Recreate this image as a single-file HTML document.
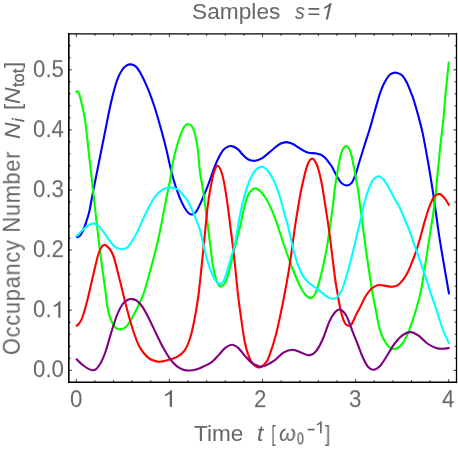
<!DOCTYPE html>
<html><head><meta charset="utf-8"><title>plot</title>
<style>
html,body{margin:0;padding:0;background:#fff;}
body{width:458px;height:449px;position:relative;overflow:hidden;font-family:"Liberation Sans",sans-serif;color:#666;}
.p{will-change:transform;position:absolute;line-height:20px;white-space:pre;display:block;}
.v{transform-origin:0 0;transform:rotate(-90deg);}
</style></head><body>
<svg width="458" height="449" viewBox="0 0 458 449" style="position:absolute;left:0;top:0">
<path d="M76.00 237.30 C76.57 237.13 78.28 237.28 79.40 236.30 C80.52 235.32 81.60 233.67 82.70 231.40 C83.80 229.13 84.92 225.93 86.00 222.70 C87.08 219.47 88.28 215.78 89.20 212.00 C90.12 208.22 90.80 203.67 91.50 200.00 C92.20 196.33 92.42 195.00 93.40 190.00 C94.38 185.00 96.23 175.83 97.40 170.00 C98.57 164.17 99.40 160.00 100.40 155.00 C101.40 150.00 102.57 144.17 103.40 140.00 C104.23 135.83 104.40 135.00 105.40 130.00 C106.40 125.00 108.07 116.20 109.40 110.00 C110.73 103.80 112.07 97.90 113.40 92.80 C114.73 87.70 115.95 83.20 117.40 79.40 C118.85 75.60 120.55 72.33 122.10 70.00 C123.65 67.67 125.20 66.33 126.70 65.40 C128.20 64.47 129.53 64.18 131.10 64.40 C132.67 64.62 134.38 64.98 136.10 66.70 C137.82 68.42 139.62 71.47 141.40 74.70 C143.18 77.93 145.12 82.20 146.80 86.10 C148.48 90.00 150.05 94.12 151.50 98.10 C152.95 102.08 153.87 104.68 155.50 110.00 C157.13 115.32 159.55 123.67 161.30 130.00 C163.05 136.33 164.10 140.20 166.00 148.00 C167.90 155.80 170.47 168.65 172.70 176.80 C174.93 184.95 177.18 191.37 179.40 196.90 C181.62 202.43 183.97 207.07 186.00 210.00 C188.03 212.93 189.73 214.50 191.60 214.50 C193.47 214.50 194.78 214.05 197.20 210.00 C199.62 205.95 203.13 197.53 206.10 190.20 C209.07 182.87 212.85 171.52 215.00 166.00 C217.15 160.48 217.67 159.70 219.00 157.10 C220.33 154.50 221.67 152.07 223.00 150.40 C224.33 148.73 225.55 147.82 227.00 147.10 C228.45 146.38 229.92 145.77 231.70 146.10 C233.48 146.43 235.80 147.60 237.70 149.10 C239.60 150.60 241.32 153.37 243.10 155.10 C244.88 156.83 246.40 158.55 248.40 159.50 C250.40 160.45 252.87 160.98 255.10 160.80 C257.33 160.62 259.57 159.68 261.80 158.40 C264.03 157.12 266.30 154.92 268.50 153.10 C270.70 151.28 273.03 149.07 275.00 147.50 C276.97 145.93 278.40 144.60 280.30 143.70 C282.20 142.80 284.38 142.10 286.40 142.10 C288.42 142.10 290.52 142.88 292.40 143.70 C294.28 144.52 295.92 145.88 297.70 147.00 C299.48 148.12 301.32 149.45 303.10 150.40 C304.88 151.35 306.40 152.20 308.40 152.70 C310.40 153.20 313.10 153.10 315.10 153.40 C317.10 153.70 318.73 153.78 320.40 154.50 C322.07 155.22 323.53 156.15 325.10 157.70 C326.67 159.25 328.70 162.37 329.80 163.80 C330.90 165.23 330.83 164.80 331.70 166.30 C332.57 167.80 333.88 170.72 335.00 172.80 C336.12 174.88 337.28 177.05 338.40 178.80 C339.52 180.55 340.37 182.18 341.70 183.30 C343.03 184.42 344.73 185.58 346.40 185.50 C348.07 185.42 350.15 184.70 351.70 182.80 C353.25 180.90 354.37 177.78 355.70 174.10 C357.03 170.42 358.13 165.82 359.70 160.70 C361.27 155.58 363.48 148.52 365.10 143.40 C366.72 138.28 368.20 133.90 369.40 130.00 C370.60 126.10 371.13 124.10 372.30 120.00 C373.47 115.90 375.05 110.05 376.40 105.40 C377.75 100.75 379.07 95.88 380.40 92.10 C381.73 88.32 382.95 85.48 384.40 82.70 C385.85 79.92 387.67 77.00 389.10 75.40 C390.53 73.80 391.78 73.55 393.00 73.10 C394.22 72.65 394.90 72.33 396.40 72.70 C397.90 73.07 400.25 73.63 402.00 75.30 C403.75 76.97 405.27 79.47 406.90 82.70 C408.53 85.93 410.65 91.78 411.80 94.70 C412.95 97.62 412.77 96.87 413.80 100.20 C414.83 103.53 416.52 109.17 418.00 114.70 C419.48 120.23 421.08 125.85 422.70 133.40 C424.32 140.95 426.55 153.70 427.70 160.00 C428.85 166.30 428.60 165.03 429.60 171.20 C430.60 177.37 432.08 186.08 433.70 197.00 C435.32 207.92 437.43 224.52 439.30 236.70 C441.17 248.88 443.27 260.52 444.90 270.10 C446.53 279.68 448.40 290.18 449.10 294.20" fill="none" stroke="#0000ff" stroke-width="2.1" stroke-linejoin="round" stroke-linecap="butt"/>
<path d="M75.70 92.30 C75.93 92.15 76.48 91.02 77.10 91.40 C77.72 91.78 78.47 91.83 79.40 94.60 C80.33 97.37 81.78 103.93 82.70 108.00 C83.62 112.07 84.30 115.33 84.90 119.00 C85.50 122.67 85.88 126.50 86.30 130.00 C86.72 133.50 86.37 130.72 87.40 140.00 C88.43 149.28 91.38 175.70 92.50 185.70 C93.62 195.70 93.30 192.95 94.10 200.00 C94.90 207.05 96.05 217.43 97.30 228.00 C98.55 238.57 100.27 253.07 101.60 263.40 C102.93 273.73 104.35 282.90 105.30 290.00 C106.25 297.10 106.40 301.10 107.30 306.00 C108.20 310.90 109.35 315.83 110.70 319.40 C112.05 322.97 113.73 325.73 115.40 327.40 C117.07 329.07 118.82 329.62 120.70 329.40 C122.58 329.18 124.58 328.43 126.70 326.10 C128.82 323.77 131.17 319.42 133.40 315.40 C135.63 311.38 138.20 306.23 140.10 302.00 C142.00 297.77 142.30 298.28 144.80 290.00 C147.30 281.72 152.53 262.30 155.10 252.30 C157.67 242.30 158.38 238.72 160.20 230.00 C162.02 221.28 164.35 208.33 166.00 200.00 C167.65 191.67 169.02 185.98 170.10 180.00 C171.18 174.02 171.40 169.65 172.50 164.10 C173.60 158.55 174.98 152.48 176.70 146.70 C178.42 140.92 180.90 133.18 182.80 129.40 C184.70 125.62 186.32 124.00 188.10 124.00 C189.88 124.00 191.92 125.40 193.50 129.40 C195.08 133.40 196.52 140.88 197.60 148.00 C198.68 155.12 199.15 165.43 200.00 172.10 C200.85 178.77 201.78 182.02 202.70 188.00 C203.62 193.98 204.57 201.17 205.50 208.00 C206.43 214.83 207.08 219.57 208.30 229.00 C209.52 238.43 211.32 255.70 212.80 264.60 C214.28 273.50 215.72 278.77 217.20 282.40 C218.68 286.03 220.03 287.13 221.70 286.40 C223.37 285.67 225.17 283.87 227.20 278.00 C229.23 272.13 231.67 260.12 233.90 251.20 C236.13 242.28 238.92 231.70 240.60 224.50 C242.28 217.30 242.70 212.98 244.00 208.00 C245.30 203.02 246.43 197.87 248.40 194.60 C250.37 191.33 252.87 187.75 255.80 188.40 C258.73 189.05 262.82 193.60 266.00 198.50 C269.18 203.40 271.93 210.13 274.90 217.80 C277.87 225.47 280.83 235.97 283.80 244.50 C286.77 253.03 290.00 262.07 292.70 269.00 C295.40 275.93 297.88 281.80 300.00 286.10 C302.12 290.40 303.62 292.80 305.40 294.80 C307.18 296.80 309.15 298.10 310.70 298.10 C312.25 298.10 313.35 297.25 314.70 294.80 C316.05 292.35 317.45 287.97 318.80 283.40 C320.15 278.83 321.53 272.97 322.80 267.40 C324.07 261.83 325.48 254.90 326.40 250.00 C327.32 245.10 327.28 244.83 328.30 238.00 C329.32 231.17 331.45 217.00 332.50 209.00 C333.55 201.00 333.95 195.15 334.60 190.00 C335.25 184.85 335.77 182.08 336.40 178.10 C337.03 174.12 337.63 170.10 338.40 166.10 C339.17 162.10 340.20 157.03 341.00 154.10 C341.80 151.17 342.35 149.85 343.20 148.50 C344.05 147.15 345.13 146.00 346.10 146.00 C347.07 146.00 348.10 146.93 349.00 148.50 C349.90 150.07 350.72 152.47 351.50 155.40 C352.28 158.33 352.88 161.87 353.70 166.10 C354.52 170.33 355.67 176.82 356.40 180.80 C357.13 184.78 357.60 186.80 358.10 190.00 C358.60 193.20 358.60 193.88 359.40 200.00 C360.20 206.12 361.73 217.87 362.90 226.70 C364.07 235.53 364.88 242.42 366.40 253.00 C367.92 263.58 370.40 280.53 372.00 290.20 C373.60 299.87 374.62 304.17 376.00 311.00 C377.38 317.83 378.47 325.60 380.30 331.20 C382.13 336.80 384.67 341.63 387.00 344.60 C389.33 347.57 391.72 349.18 394.30 349.00 C396.88 348.82 400.02 346.65 402.50 343.50 C404.98 340.35 406.97 335.68 409.20 330.10 C411.43 324.52 413.85 317.02 415.90 310.00 C417.95 302.98 419.45 298.73 421.50 288.00 C423.55 277.27 426.28 257.77 428.20 245.60 C430.12 233.43 431.75 223.68 433.00 215.00 C434.25 206.32 434.53 204.50 435.70 193.50 C436.87 182.50 438.73 161.25 440.00 149.00 C441.27 136.75 442.35 129.43 443.30 120.00 C444.25 110.57 444.78 102.13 445.70 92.40 C446.62 82.67 448.28 66.73 448.80 61.60" fill="none" stroke="#00ff00" stroke-width="2.1" stroke-linejoin="round" stroke-linecap="butt"/>
<path d="M76.00 326.30 C76.57 325.78 78.28 324.83 79.40 323.20 C80.52 321.57 81.37 320.37 82.70 316.50 C84.03 312.63 85.45 307.75 87.40 300.00 C89.35 292.25 92.68 277.25 94.40 270.00 C96.12 262.75 96.60 260.17 97.70 256.50 C98.80 252.83 99.75 249.92 101.00 248.00 C102.25 246.08 103.23 243.92 105.20 245.00 C107.17 246.08 110.42 248.83 112.80 254.50 C115.18 260.17 117.28 270.47 119.50 279.00 C121.72 287.53 123.88 297.28 126.10 305.70 C128.32 314.12 130.57 322.65 132.80 329.50 C135.03 336.35 136.90 342.07 139.50 346.80 C142.10 351.53 145.25 355.42 148.40 357.90 C151.55 360.38 155.47 361.27 158.40 361.70 C161.33 362.13 162.88 361.32 166.00 360.50 C169.12 359.68 173.95 358.53 177.10 356.80 C180.25 355.07 182.67 353.43 184.90 350.10 C187.13 346.77 188.82 342.37 190.50 336.80 C192.18 331.23 193.67 323.67 195.00 316.70 C196.33 309.73 197.22 305.17 198.50 295.00 C199.78 284.83 201.20 270.20 202.70 255.70 C204.20 241.20 206.20 219.28 207.50 208.00 C208.80 196.72 209.43 193.93 210.50 188.00 C211.57 182.07 212.70 176.12 213.90 172.40 C215.10 168.68 216.33 165.43 217.70 165.70 C219.07 165.97 220.82 169.93 222.10 174.00 C223.38 178.07 224.37 184.10 225.40 190.10 C226.43 196.10 227.40 203.35 228.30 210.00 C229.20 216.65 229.83 222.22 230.80 230.00 C231.77 237.78 232.95 246.37 234.10 256.70 C235.25 267.03 236.62 282.37 237.70 292.00 C238.78 301.63 239.37 305.92 240.60 314.50 C241.83 323.08 243.43 335.88 245.10 343.50 C246.77 351.12 248.38 356.20 250.60 360.20 C252.82 364.20 255.83 367.13 258.40 367.50 C260.97 367.87 263.98 364.92 266.00 362.40 C268.02 359.88 268.83 357.05 270.50 352.40 C272.17 347.75 274.33 340.82 276.00 334.50 C277.67 328.18 279.10 321.08 280.50 314.50 C281.90 307.92 282.92 302.95 284.40 295.00 C285.88 287.05 287.63 278.18 289.40 266.80 C291.17 255.42 293.48 237.00 295.00 226.70 C296.52 216.40 297.40 211.45 298.50 205.00 C299.60 198.55 300.15 194.55 301.60 188.00 C303.05 181.45 305.45 170.60 307.20 165.70 C308.95 160.80 310.43 158.60 312.10 158.60 C313.77 158.60 315.60 161.55 317.20 165.70 C318.80 169.85 320.37 176.95 321.70 183.50 C323.03 190.05 323.90 196.68 325.20 205.00 C326.50 213.32 327.87 221.23 329.50 233.40 C331.13 245.57 333.58 267.57 335.00 278.00 C336.42 288.43 337.22 291.33 338.00 296.00 C338.78 300.67 338.97 302.55 339.70 306.00 C340.43 309.45 341.50 313.80 342.40 316.70 C343.30 319.60 344.10 321.88 345.10 323.40 C346.10 324.92 347.30 325.68 348.40 325.80 C349.50 325.92 350.37 326.05 351.70 324.10 C353.03 322.15 355.02 316.87 356.40 314.10 C357.78 311.33 358.52 310.38 360.00 307.50 C361.48 304.62 363.52 299.82 365.30 296.80 C367.08 293.78 369.02 291.18 370.70 289.40 C372.38 287.62 373.85 286.83 375.40 286.10 C376.95 285.37 378.12 285.00 380.00 285.00 C381.88 285.00 384.68 285.82 386.70 286.10 C388.72 286.38 390.32 286.82 392.10 286.70 C393.88 286.58 395.62 286.50 397.40 285.40 C399.18 284.30 401.02 282.43 402.80 280.10 C404.58 277.77 406.55 274.42 408.10 271.40 C409.65 268.38 410.77 265.35 412.10 262.00 C413.43 258.65 414.85 254.97 416.10 251.30 C417.35 247.63 418.15 245.03 419.60 240.00 C421.05 234.97 423.18 226.60 424.80 221.10 C426.42 215.60 427.82 210.97 429.30 207.00 C430.78 203.03 431.97 199.45 433.70 197.30 C435.43 195.15 437.83 193.88 439.70 194.10 C441.57 194.32 443.30 196.68 444.90 198.60 C446.50 200.52 448.57 204.43 449.30 205.60" fill="none" stroke="#ff0000" stroke-width="2.1" stroke-linejoin="round" stroke-linecap="butt"/>
<path d="M76.00 236.70 C77.12 235.58 80.80 231.77 82.70 230.00 C84.60 228.23 85.62 227.20 87.40 226.10 C89.18 225.00 91.47 223.37 93.40 223.40 C95.33 223.43 97.40 225.00 99.00 226.30 C100.60 227.60 101.43 229.08 103.00 231.20 C104.57 233.32 106.62 236.58 108.40 239.00 C110.18 241.42 112.13 244.13 113.70 245.70 C115.27 247.27 116.45 247.82 117.80 248.40 C119.15 248.98 120.57 249.20 121.80 249.20 C123.03 249.20 124.10 248.87 125.20 248.40 C126.30 247.93 126.97 248.10 128.40 246.40 C129.83 244.70 132.17 240.93 133.80 238.20 C135.43 235.47 136.48 233.57 138.20 230.00 C139.92 226.43 142.12 221.02 144.10 216.80 C146.08 212.58 148.10 208.27 150.10 204.70 C152.10 201.13 153.98 197.95 156.10 195.40 C158.22 192.85 161.07 190.63 162.80 189.40 C164.53 188.17 165.23 188.33 166.50 188.00 C167.77 187.67 169.15 187.42 170.40 187.40 C171.65 187.38 172.82 187.57 174.00 187.90 C175.18 188.23 176.50 188.82 177.50 189.40 C178.50 189.98 178.47 189.73 180.00 191.40 C181.53 193.07 184.68 196.28 186.70 199.40 C188.72 202.52 190.53 206.77 192.10 210.10 C193.67 213.43 194.78 216.08 196.10 219.40 C197.42 222.72 198.78 225.78 200.00 230.00 C201.22 234.22 202.17 239.58 203.40 244.70 C204.63 249.82 205.85 255.58 207.40 260.70 C208.95 265.82 211.18 271.88 212.70 275.40 C214.22 278.92 215.27 280.35 216.50 281.80 C217.73 283.25 219.02 284.07 220.10 284.10 C221.18 284.13 222.12 283.22 223.00 282.00 C223.88 280.78 224.22 280.35 225.40 276.80 C226.58 273.25 228.65 265.60 230.10 260.70 C231.55 255.80 232.88 252.52 234.10 247.40 C235.32 242.28 236.58 234.57 237.40 230.00 C238.22 225.43 238.17 224.32 239.00 220.00 C239.83 215.68 241.17 209.20 242.40 204.10 C243.63 199.00 245.07 193.63 246.40 189.40 C247.73 185.17 248.85 181.93 250.40 178.70 C251.95 175.47 253.82 172.00 255.70 170.00 C257.58 168.00 259.68 166.58 261.70 166.70 C263.72 166.82 265.83 168.48 267.80 170.70 C269.77 172.92 271.60 176.00 273.50 180.00 C275.40 184.00 277.62 190.02 279.20 194.70 C280.78 199.38 281.97 204.30 283.00 208.10 C284.03 211.90 284.63 214.77 285.40 217.50 C286.17 220.23 286.30 219.25 287.60 224.50 C288.90 229.75 291.57 242.52 293.20 249.00 C294.83 255.48 295.82 259.00 297.40 263.40 C298.98 267.80 300.82 272.18 302.70 275.40 C304.58 278.62 306.47 280.58 308.70 282.70 C310.93 284.82 313.75 286.32 316.10 288.10 C318.45 289.88 320.80 291.85 322.80 293.40 C324.80 294.95 326.32 296.50 328.10 297.40 C329.88 298.30 331.93 298.90 333.50 298.80 C335.07 298.70 336.42 297.80 337.50 296.80 C338.58 295.80 339.22 294.02 340.00 292.80 C340.78 291.58 340.95 292.88 342.20 289.50 C343.45 286.12 345.63 279.08 347.50 272.50 C349.37 265.92 351.63 257.08 353.40 250.00 C355.17 242.92 356.82 235.43 358.10 230.00 C359.38 224.57 359.93 222.40 361.10 217.40 C362.27 212.40 363.77 204.90 365.10 200.00 C366.43 195.10 367.77 191.33 369.10 188.00 C370.43 184.67 371.50 181.95 373.10 180.00 C374.70 178.05 376.92 176.30 378.70 176.30 C380.48 176.30 381.95 177.82 383.80 180.00 C385.65 182.18 388.00 186.28 389.80 189.40 C391.60 192.52 392.97 195.72 394.60 198.70 C396.23 201.68 397.90 203.83 399.60 207.30 C401.30 210.77 403.13 215.52 404.80 219.50 C406.47 223.48 407.57 225.73 409.60 231.20 C411.63 236.67 414.47 245.07 417.00 252.30 C419.53 259.53 422.55 267.90 424.80 274.60 C427.05 281.30 428.55 286.60 430.50 292.50 C432.45 298.40 434.48 303.92 436.50 310.00 C438.52 316.08 440.47 323.37 442.60 329.00 C444.73 334.63 448.18 341.33 449.30 343.80" fill="none" stroke="#00ffff" stroke-width="2.1" stroke-linejoin="round" stroke-linecap="butt"/>
<path d="M76.00 358.70 C76.67 359.35 78.66 361.38 80.00 362.60 C81.34 363.82 82.63 364.95 84.05 366.00 C85.47 367.05 87.14 368.18 88.50 368.90 C89.86 369.62 90.98 370.22 92.20 370.30 C93.42 370.38 94.50 370.40 95.80 369.40 C97.10 368.40 98.80 366.17 100.00 364.30 C101.20 362.43 102.00 360.53 103.00 358.20 C104.00 355.87 104.50 354.98 106.00 350.30 C107.50 345.62 110.10 336.13 112.00 330.10 C113.90 324.07 115.62 318.45 117.40 314.10 C119.18 309.75 121.03 306.35 122.70 304.00 C124.37 301.65 125.88 300.82 127.40 300.00 C128.92 299.18 130.25 298.98 131.80 299.10 C133.35 299.22 134.87 299.32 136.70 300.70 C138.53 302.08 140.68 304.28 142.80 307.40 C144.92 310.52 147.08 314.85 149.40 319.40 C151.72 323.95 154.37 329.92 156.70 334.70 C159.03 339.48 161.18 344.08 163.40 348.10 C165.62 352.12 167.78 355.80 170.00 358.80 C172.22 361.80 174.47 364.28 176.70 366.10 C178.93 367.92 181.28 368.97 183.40 369.70 C185.52 370.43 187.17 370.58 189.40 370.50 C191.63 370.42 194.45 369.87 196.80 369.20 C199.15 368.53 201.02 367.68 203.50 366.50 C205.98 365.32 209.22 363.95 211.70 362.10 C214.18 360.25 216.18 357.73 218.40 355.40 C220.62 353.07 222.72 349.88 225.00 348.10 C227.28 346.32 229.87 344.70 232.10 344.70 C234.33 344.70 236.23 346.20 238.40 348.10 C240.57 350.00 242.87 353.65 245.10 356.10 C247.33 358.55 249.57 361.13 251.80 362.80 C254.03 364.47 256.95 365.48 258.50 366.10 C260.05 366.72 259.85 366.62 261.10 366.50 C262.35 366.38 263.70 366.45 266.00 365.40 C268.30 364.35 271.93 362.37 274.90 360.20 C277.87 358.03 280.83 354.15 283.80 352.40 C286.77 350.65 289.73 349.63 292.70 349.70 C295.67 349.77 298.82 351.87 301.60 352.80 C304.38 353.73 306.98 355.57 309.40 355.30 C311.82 355.03 313.87 353.92 316.10 351.20 C318.33 348.48 320.57 344.00 322.80 339.00 C325.03 334.00 327.47 325.65 329.50 321.20 C331.53 316.75 333.27 314.23 335.00 312.30 C336.73 310.37 338.03 309.05 339.90 309.60 C341.77 310.15 344.03 311.82 346.20 315.60 C348.37 319.38 350.93 327.40 352.90 332.30 C354.87 337.20 356.40 340.92 358.00 345.00 C359.60 349.08 360.83 353.17 362.50 356.80 C364.17 360.43 366.15 364.65 368.00 366.80 C369.85 368.95 371.55 369.88 373.60 369.70 C375.65 369.52 378.07 368.03 380.30 365.70 C382.53 363.37 384.60 359.40 387.00 355.70 C389.40 352.00 392.03 346.98 394.70 343.50 C397.37 340.02 400.35 336.70 403.00 334.80 C405.65 332.90 408.00 331.95 410.60 332.10 C413.20 332.25 415.82 333.80 418.60 335.70 C421.38 337.60 424.40 341.47 427.30 343.50 C430.20 345.53 433.45 347.03 436.00 347.90 C438.55 348.77 440.33 348.70 442.60 348.70 C444.87 348.70 448.43 348.03 449.60 347.90" fill="none" stroke="#800080" stroke-width="2.1" stroke-linejoin="round" stroke-linecap="butt"/>
<path d="M76.30 382.20 v-3.00 M76.30 33.90 v3.00 M94.92 382.20 v-2.00 M94.92 33.90 v2.00 M113.54 382.20 v-2.00 M113.54 33.90 v2.00 M132.16 382.20 v-2.00 M132.16 33.90 v2.00 M150.78 382.20 v-2.00 M150.78 33.90 v2.00 M169.40 382.20 v-3.00 M169.40 33.90 v3.00 M188.02 382.20 v-2.00 M188.02 33.90 v2.00 M206.64 382.20 v-2.00 M206.64 33.90 v2.00 M225.26 382.20 v-2.00 M225.26 33.90 v2.00 M243.88 382.20 v-2.00 M243.88 33.90 v2.00 M262.50 382.20 v-3.00 M262.50 33.90 v3.00 M281.12 382.20 v-2.00 M281.12 33.90 v2.00 M299.74 382.20 v-2.00 M299.74 33.90 v2.00 M318.36 382.20 v-2.00 M318.36 33.90 v2.00 M336.98 382.20 v-2.00 M336.98 33.90 v2.00 M355.60 382.20 v-3.00 M355.60 33.90 v3.00 M374.22 382.20 v-2.00 M374.22 33.90 v2.00 M392.84 382.20 v-2.00 M392.84 33.90 v2.00 M411.46 382.20 v-2.00 M411.46 33.90 v2.00 M430.08 382.20 v-2.00 M430.08 33.90 v2.00 M448.70 382.20 v-3.00 M448.70 33.90 v3.00 M68.80 370.30 h3.00 M456.50 370.30 h-3.00 M68.80 358.28 h2.00 M456.50 358.28 h-2.00 M68.80 346.26 h2.00 M456.50 346.26 h-2.00 M68.80 334.24 h2.00 M456.50 334.24 h-2.00 M68.80 322.22 h2.00 M456.50 322.22 h-2.00 M68.80 310.20 h3.00 M456.50 310.20 h-3.00 M68.80 298.18 h2.00 M456.50 298.18 h-2.00 M68.80 286.16 h2.00 M456.50 286.16 h-2.00 M68.80 274.14 h2.00 M456.50 274.14 h-2.00 M68.80 262.12 h2.00 M456.50 262.12 h-2.00 M68.80 250.10 h3.00 M456.50 250.10 h-3.00 M68.80 238.08 h2.00 M456.50 238.08 h-2.00 M68.80 226.06 h2.00 M456.50 226.06 h-2.00 M68.80 214.04 h2.00 M456.50 214.04 h-2.00 M68.80 202.02 h2.00 M456.50 202.02 h-2.00 M68.80 190.00 h3.00 M456.50 190.00 h-3.00 M68.80 177.98 h2.00 M456.50 177.98 h-2.00 M68.80 165.96 h2.00 M456.50 165.96 h-2.00 M68.80 153.94 h2.00 M456.50 153.94 h-2.00 M68.80 141.92 h2.00 M456.50 141.92 h-2.00 M68.80 129.90 h3.00 M456.50 129.90 h-3.00 M68.80 117.88 h2.00 M456.50 117.88 h-2.00 M68.80 105.86 h2.00 M456.50 105.86 h-2.00 M68.80 93.84 h2.00 M456.50 93.84 h-2.00 M68.80 81.82 h2.00 M456.50 81.82 h-2.00 M68.80 69.80 h3.00 M456.50 69.80 h-3.00 M68.80 57.78 h2.00 M456.50 57.78 h-2.00 M68.80 45.76 h2.00 M456.50 45.76 h-2.00" fill="none" stroke="#000" stroke-opacity="0.8" stroke-width="1.0"/>
<path d="M68.00 33.90 H457.15" stroke="#000" stroke-width="1.25" fill="none"/>
<path d="M68.00 382.20 H457.15" stroke="#000" stroke-width="1.5" fill="none"/>
<path d="M68.80 33.20 V382.95" stroke="#000" stroke-width="1.6" fill="none"/>
<path d="M456.50 33.20 V382.95" stroke="#000" stroke-width="1.3" fill="none"/>
</svg>
<svg width="458" height="449" viewBox="0 0 458 449" style="position:absolute;left:0;top:0"><path d="M763 0H583V1147Q518 1085 412.5 1023Q307 961 223 930V1104Q374 1175 487 1276Q600 1377 647 1472H763Z" transform="translate(165.10 406.70) scale(0.01285 -0.01122) translate(-223 0)" fill="#666"/><path d="M763 0H583V1147Q518 1085 412.5 1023Q307 961 223 930V1104Q374 1175 487 1276Q600 1377 647 1472H763Z" transform="translate(53.80 317.70) scale(0.01230 -0.01122) translate(-223 0)" fill="#666"/><path d="M763 0H583V1147Q518 1085 412.5 1023Q307 961 223 930V1104Q374 1175 487 1276Q600 1377 647 1472H763Z" transform="translate(323.80 19.40) scale(0.01198 -0.01122) matrix(1 0 0.2126 1 -420.72 0)" fill="#666"/><path d="M763 0H583V1147Q518 1085 412.5 1023Q307 961 223 930V1104Q374 1175 487 1276Q600 1377 647 1472H763Z" transform="translate(316.80 433.20) scale(0.00907 -0.00820) translate(-223 0)" fill="#666"/></svg>
<span class="p" style="left:191.90px;top:1.67px;font-size:22.30px;transform-origin:1.00px 17.73px;transform:rotate(0.03deg) scale(1.0187,1.000);">Samples</span>
<span class="p" style="left:294.90px;top:1.67px;font-size:22.30px;font-style:italic;transform-origin:0.00px 17.73px;transform:rotate(0.03deg) scale(0.8727,1.000);">s</span>
<span class="p" style="left:306.50px;top:1.67px;font-size:22.30px;font-style:italic;transform-origin:1.00px 17.73px;transform:rotate(0.03deg) scale(1.0000,1.000);">=</span>
<span class="p" style="left:194.40px;top:423.87px;font-size:22.30px;transform-origin:0.00px 17.73px;transform:rotate(0.03deg) scale(1.0120,1.000);">Time</span>
<span class="p" style="left:256.90px;top:423.57px;font-size:22.30px;font-style:italic;transform-origin:1.00px 17.73px;transform:rotate(0.03deg) scale(1.0333,1.000);">t</span>
<span class="p" style="left:271.30px;top:423.77px;font-size:22.30px;transform-origin:1.00px 17.73px;transform:rotate(0.03deg) scale(0.7000,1.000);">[</span>
<span class="p" style="left:279.10px;top:423.77px;font-size:22.30px;font-style:italic;transform-origin:0.00px 17.73px;transform:rotate(0.03deg) scale(0.9706,1.000);">ω</span>
<span class="p" style="left:296.80px;top:429.45px;font-size:16.60px;-webkit-text-stroke:0.3px #666;transform-origin:0.00px 15.75px;transform:rotate(0.03deg) scale(0.7444,1.040);">0</span>
<span class="p" style="left:306.60px;top:419.25px;font-size:16.30px;-webkit-text-stroke:0.3px #666;transform-origin:0.00px 15.65px;transform:rotate(0.03deg) scale(0.8444,1.000);">−</span>
<span class="p" style="left:324.60px;top:423.77px;font-size:22.30px;transform-origin:0.00px 17.73px;transform:rotate(0.03deg) scale(0.8600,1.000);">]</span>
<span class="p" style="left:69.60px;top:389.77px;font-size:22.30px;transform-origin:6.00px 17.73px;transform:rotate(0.03deg) scale(1.0000,1.040);">0</span>
<span class="p" style="left:254.30px;top:389.77px;font-size:22.30px;transform-origin:6.50px 17.73px;transform:rotate(0.03deg) scale(1.0000,1.040);">2</span>
<span class="p" style="left:348.90px;top:389.77px;font-size:22.30px;transform-origin:6.00px 17.73px;transform:rotate(0.03deg) scale(1.0000,1.040);">3</span>
<span class="p" style="left:442.00px;top:389.77px;font-size:22.30px;transform-origin:6.00px 17.73px;transform:rotate(0.03deg) scale(1.0000,1.040);">4</span>
<span class="p" style="left:32.70px;top:360.47px;font-size:22.30px;transform-origin:30.60px 17.73px;transform:rotate(0.03deg) scale(1.0000,1.040);">0.0</span>
<span class="p" style="left:33.10px;top:300.37px;font-size:22.30px;transform-origin:0.00px 17.73px;transform:rotate(0.03deg) scale(1.0000,1.040);">0.</span>
<span class="p" style="left:32.70px;top:240.27px;font-size:22.30px;transform-origin:30.60px 17.73px;transform:rotate(0.03deg) scale(1.0000,1.040);">0.2</span>
<span class="p" style="left:32.70px;top:180.17px;font-size:22.30px;transform-origin:30.60px 17.73px;transform:rotate(0.03deg) scale(1.0000,1.040);">0.3</span>
<span class="p" style="left:32.70px;top:120.07px;font-size:22.30px;transform-origin:30.60px 17.73px;transform:rotate(0.03deg) scale(1.0000,1.040);">0.4</span>
<span class="p" style="left:32.70px;top:59.97px;font-size:22.30px;transform-origin:30.60px 17.73px;transform:rotate(0.03deg) scale(1.0000,1.040);">0.5</span>
<span class="p v" style="left:1.63px;top:354.57px;font-size:22.30px;letter-spacing:0.85px;transform:rotate(-90deg) scale(0.970,1.070);">Occupancy Number</span>
<span class="p v" style="left:2.34px;top:138.70px;font-size:22.30px;font-style:italic;transform:rotate(-90deg) scale(1.030,1.030);">N</span>
<span class="p v" style="left:8.28px;top:121.60px;font-size:16.50px;font-style:italic;-webkit-text-stroke:0.3px #666;">i</span>
<span class="p v" style="left:2.87px;top:109.50px;font-size:22.30px;">[</span>
<span class="p v" style="left:2.34px;top:103.50px;font-size:22.30px;font-style:italic;transform:rotate(-90deg) scale(1.030,1.030);">N</span>
<span class="p v" style="left:8.28px;top:87.20px;font-size:16.50px;-webkit-text-stroke:0.3px #666;">tot</span>
<span class="p v" style="left:2.87px;top:67.90px;font-size:22.30px;">]</span>
</body></html>
